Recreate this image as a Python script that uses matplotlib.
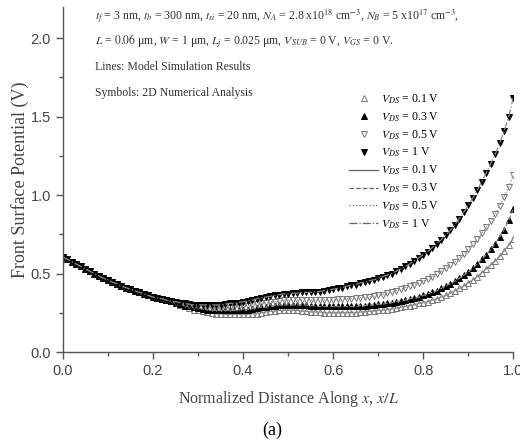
import numpy as np
import matplotlib
matplotlib.use("Agg")
import matplotlib.pyplot as plt
from matplotlib.lines import Line2D
from matplotlib.ticker import MultipleLocator

plt.rcParams['mathtext.fontset'] = 'stix'

# posiciones normalizadas x/L (paso 0.01)
x = np.round(np.arange(0, 1.0001, 0.01), 2)

# potencial superficial (V), filas de 10 puntos
inicio = [0.605, 0.59, 0.575, 0.56, 0.545, 0.53, 0.515, 0.50, 0.485, 0.47,
          0.46, 0.445, 0.435, 0.42, 0.41, 0.40, 0.39, 0.38, 0.37, 0.36]

v_1 = inicio + [
    0.35, 0.345, 0.34, 0.33, 0.325, 0.32, 0.315, 0.31, 0.305, 0.30,
    0.30, 0.30, 0.30, 0.30, 0.30, 0.30, 0.305, 0.31, 0.31, 0.315,
    0.32, 0.325, 0.33, 0.34, 0.345, 0.35, 0.355, 0.36, 0.365, 0.37,
    0.37, 0.375, 0.375, 0.38, 0.38, 0.38, 0.385, 0.385, 0.39, 0.395,
    0.40, 0.405, 0.41, 0.42, 0.425, 0.43, 0.44, 0.445, 0.455, 0.46,
    0.47, 0.48, 0.49, 0.50, 0.515, 0.53, 0.545, 0.56, 0.58, 0.60,
    0.62, 0.64, 0.665, 0.69, 0.715, 0.745, 0.775, 0.81, 0.85, 0.89,
    0.935, 0.98, 1.03, 1.085, 1.14, 1.20, 1.26, 1.33, 1.41, 1.50,
    1.62]

v_05 = inicio + [
    0.35, 0.345, 0.34, 0.33, 0.325, 0.315, 0.31, 0.305, 0.30, 0.295,
    0.29, 0.29, 0.285, 0.28, 0.28, 0.28, 0.28, 0.28, 0.285, 0.285,
    0.29, 0.295, 0.30, 0.305, 0.31, 0.315, 0.32, 0.32, 0.325, 0.33,
    0.33, 0.33, 0.33, 0.33, 0.33, 0.33, 0.33, 0.33, 0.33, 0.33,
    0.33, 0.335, 0.335, 0.34, 0.34, 0.345, 0.345, 0.35, 0.35, 0.355,
    0.36, 0.365, 0.375, 0.38, 0.39, 0.40, 0.41, 0.42, 0.43, 0.44,
    0.45, 0.465, 0.48, 0.50, 0.515, 0.535, 0.555, 0.575, 0.60, 0.625,
    0.655, 0.685, 0.72, 0.755, 0.795, 0.835, 0.88, 0.93, 0.99, 1.05,
    1.13]

v_03 = inicio + [
    0.35, 0.345, 0.34, 0.33, 0.325, 0.315, 0.305, 0.295, 0.29, 0.285,
    0.28, 0.275, 0.27, 0.27, 0.265, 0.265, 0.265, 0.265, 0.265, 0.27,
    0.27, 0.27, 0.275, 0.28, 0.285, 0.285, 0.29, 0.295, 0.30, 0.30,
    0.30, 0.30, 0.30, 0.30, 0.30, 0.295, 0.295, 0.29, 0.29, 0.29,
    0.29, 0.29, 0.29, 0.29, 0.29, 0.29, 0.295, 0.295, 0.30, 0.30,
    0.305, 0.305, 0.31, 0.315, 0.32, 0.325, 0.33, 0.34, 0.345, 0.35,
    0.36, 0.37, 0.38, 0.39, 0.405, 0.42, 0.435, 0.45, 0.47, 0.49,
    0.51, 0.535, 0.56, 0.59, 0.62, 0.655, 0.69, 0.735, 0.78, 0.84,
    0.91]

v_01 = inicio + [
    0.35, 0.345, 0.34, 0.33, 0.325, 0.315, 0.30, 0.29, 0.28, 0.27,
    0.265, 0.26, 0.255, 0.25, 0.245, 0.245, 0.24, 0.24, 0.24, 0.24,
    0.24, 0.24, 0.245, 0.245, 0.25, 0.255, 0.26, 0.26, 0.265, 0.265,
    0.265, 0.265, 0.265, 0.26, 0.26, 0.255, 0.255, 0.255, 0.25, 0.25,
    0.25, 0.25, 0.25, 0.25, 0.25, 0.25, 0.255, 0.255, 0.26, 0.26,
    0.265, 0.265, 0.27, 0.275, 0.28, 0.285, 0.29, 0.295, 0.30, 0.31,
    0.315, 0.32, 0.33, 0.34, 0.35, 0.36, 0.375, 0.39, 0.405, 0.42,
    0.44, 0.46, 0.48, 0.505, 0.53, 0.555, 0.58, 0.61, 0.645, 0.68,
    0.72]

etiquetas = ['0.1 V', '0.3 V', '0.5 V', '1 V']
series = [v_01, v_03, v_05, v_1]
marcadores = [('^', 'none', '#777777'), ('^', 'black', 'black'),
              ('v', 'none', '#777777'), ('v', 'black', 'black')]
estilos = ['-', '--', ':', '-.']

fig = plt.figure(figsize=(5.2, 4.43), dpi=100)
ax = fig.add_axes([0.121, 0.2054, 0.866, 0.7796])

gris = '#555555'
for y, (m, fc, ec), ls in zip(series, marcadores, estilos):
    ax.plot(x, y, linestyle='none', marker=m, markersize=5,
            markerfacecolor=fc, markeredgecolor=ec, markeredgewidth=0.7)
    ax.plot(x, y, linestyle=ls, color='#888888', linewidth=0.9)

ax.set_xlim(0, 1.0)
ax.set_ylim(0, 2.2)
ax.xaxis.set_major_locator(MultipleLocator(0.2))
ax.xaxis.set_minor_locator(MultipleLocator(0.1))
ax.yaxis.set_major_locator(MultipleLocator(0.5))
ax.yaxis.set_minor_locator(MultipleLocator(0.25))
ax.set_xticks(np.arange(0, 1.01, 0.2))
ax.set_xticklabels(['0.0', '0.2', '0.4', '0.6', '0.8', '1.0'])
ax.set_yticklabels([f'{v:.1f}' for v in ax.get_yticks()])

for s in ['top', 'right']:
    ax.spines[s].set_visible(False)
for s in ['left', 'bottom']:
    ax.spines[s].set_color(gris)
    ax.spines[s].set_linewidth(1.0)

ax.tick_params(which='major', direction='out', length=5, width=1, color=gris,
               labelsize=10.5, labelcolor='#444444')
ax.tick_params(which='minor', direction='out', length=3, width=1, color=gris)
for lab in ax.get_xticklabels() + ax.get_yticklabels():
    lab.set_family('Liberation Sans')

ax.set_ylabel('Front Surface Potential (V)', family='Liberation Serif', fontsize=13,
              color='#444444', labelpad=1)
ax.set_xlabel(r'Normalized Distance Along $x$, $x/L$', family='Liberation Serif',
              fontsize=11.5, color='#444444', labelpad=8)
fig.text(0.523, 1 - 430 / 443, '(a)', family='Liberation Serif', fontsize=13,
         ha='center', va='center')

fuente = dict(family='Liberation Serif', fontsize=8.5, color='#333333', va='center')
fig.text(95 / 520, 1 - 17 / 443,
         r'$t_f$ = 3 nm, $t_b$ = 300 nm, $t_{si}$ = 20 nm, $N_A$ = 2.8 x10$^{18}$ cm$^{-3}$, '
         r'$N_B$ = 5 x10$^{17}$ cm$^{-3}$,', **fuente)
fig.text(95 / 520, 1 - 41 / 443,
         r'$L$ = $0.06$ μm, $W$ = $1$ μm, $L_j$ = 0.025 μm, $V_{SUB}$ = 0 V, $V_{GS}$ = 0 V.',
         **fuente)
fig.text(95 / 520, 1 - 67 / 443, 'Lines: Model Simulation Results', **fuente)
fig.text(95 / 520, 1 - 93 / 443, 'Symbols: 2D Numerical Analysis', **fuente)

manejadores = []
for (m, fc, ec), et in zip(marcadores, etiquetas):
    manejadores.append(Line2D([], [], linestyle='none', marker=m, markersize=4.5,
                              markerfacecolor=fc, markeredgecolor=ec,
                              markeredgewidth=0.7, label=r'$V_{DS}$ = ' + et))
for ls, et in zip(estilos, etiquetas):
    manejadores.append(Line2D([], [], linestyle=ls, color='#666666', linewidth=0.9,
                              label=r'$V_{DS}$ = ' + et))

ax.legend(handles=manejadores, loc='upper left', bbox_to_anchor=(0.635, 0.752),
          frameon=False, borderaxespad=0, borderpad=0, handlelength=2.5,
          handletextpad=0.2, labelspacing=0.37,
          prop={'family': 'Liberation Serif', 'size': 8.5})

fig.savefig('out.png', dpi=100)
